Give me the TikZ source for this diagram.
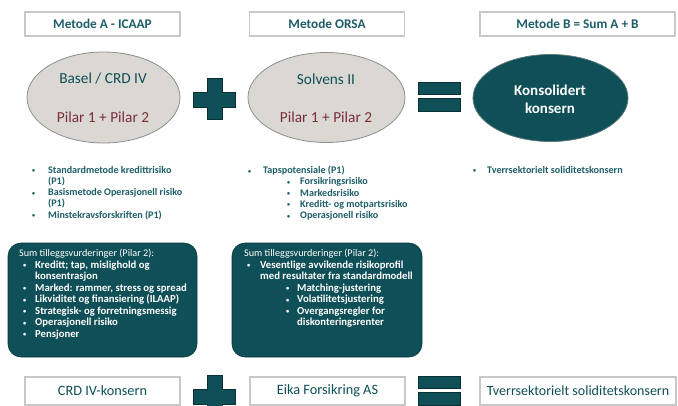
\documentclass[tikz,border=0pt]{standalone}
\usepackage{fontspec}
\setmainfont{Carlito}
\usetikzlibrary{shapes.geometric}
\definecolor{teal}{HTML}{0F4F57}
\definecolor{tealtext}{HTML}{1D5E69}
\definecolor{ellfill}{HTML}{DBD8D4}
\definecolor{ellline}{HTML}{8E8E8E}
\definecolor{pilred}{HTML}{7B2C3A}
\definecolor{boxline}{HTML}{C8C8C8}
\tikzset{
  labelbox/.style={draw=boxline, line width=1.2pt, fill=white, minimum height=24pt, inner sep=0pt, text=tealtext, font=\fontsize{14.3}{16}\selectfont},
  toplabel/.style={labelbox, font=\bfseries\fontsize{13.3}{15}\selectfont},
  grayell/.style={ellipse, draw=ellline, line width=0.8pt, fill=ellfill, inner sep=0pt},
  darkell/.style={ellipse, draw=ellline!60!teal, line width=0.8pt, fill=teal, inner sep=0pt},
  elltitle/.style={inner sep=0pt, font=\fontsize{15.3}{17}\selectfont, text=teal},
  ellpilar/.style={inner sep=0pt, font=\fontsize{15.3}{17}\selectfont, text=pilred},
  blist/.style={anchor=north west, inner sep=0pt, align=left, text=tealtext, font=\bfseries\fontsize{10.1}{11.2}\selectfont},
  darkbox/.style={draw=teal!70!black, fill=teal, rounded corners=13pt, line width=0.6pt},
  boxlist/.style={anchor=north west, inner sep=0pt, align=left, text=white, font=\bfseries\fontsize{10.7}{11.5}\selectfont},
  symb/.style={fill=teal, draw=teal!60!black, line width=0.4pt},
}
\newcommand{\sbul}{\raisebox{0.1ex}{\scalebox{0.6}{\textbullet}}}
\newcommand{\bl}[1]{\makebox[#1][l]{\sbul}}
\begin{document}
\begin{tikzpicture}[x=1pt,y=-1pt]
\useasboundingbox (0,0) rectangle (678,405);
\fill[white] (0,0) rectangle (678,405);
% top labels
\node[toplabel, minimum width=155pt] (ta) at (102.5,24) {Metode A - ICAAP};
\node[toplabel, minimum width=155pt] (to) at (327,24) {Metode ORSA};
\node[toplabel, minimum width=195pt] (tb) at (577.5,24) {Metode B = Sum A + B};
% ellipses
\node[grayell, minimum width=153pt, minimum height=91pt] (e1) at (103.5,97.5) {};
\node[elltitle] (e1a) at (103,79) {Basel / CRD IV};
\node[ellpilar] (e1b) at (103,117) {Pilar 1 + Pilar 2};
\node[grayell, minimum width=157pt, minimum height=90pt] (e2) at (326.5,97.5) {};
\node[elltitle] (e2a) at (326,79) {Solvens II};
\node[ellpilar] (e2b) at (326,117) {Pilar 1 + Pilar 2};
\node[darkell, minimum width=155pt, minimum height=87pt] (e3) at (550.5,98) {};
\node[inner sep=0pt, align=center, text=white, font=\bfseries\fontsize{15}{18}\selectfont] (e3a) at (550,99) {Konsolidert\\konsern};
% plus and equals (top)
\draw[symb] (207,78) -- (222,78) -- (222,92) -- (235,92) -- (235,107) -- (222,107) -- (222,119) -- (207,119) -- (207,107) -- (193,107) -- (193,92) -- (207,92) -- cycle;
\draw[symb] (418,82) rectangle (460,94);
\draw[symb] (418,98) rectangle (460,111);
% bullet lists
\node[blist] (l1) at (32,166) {\bl{16pt}Standardmetode kredittrisiko\\\hspace*{16pt}(P1)\\\bl{16pt}Basismetode Operasjonell risiko\\\hspace*{16pt}(P1)\\\bl{16pt}Minstekravsforskriften (P1)};
\node[blist] (l2) at (248,166) {\bl{15pt}Tapspotensiale (P1)\\
\hspace*{39pt}\bl{13pt}Forsikringsrisiko\\\hspace*{39pt}\bl{13pt}Markedsrisiko\\\hspace*{39pt}\bl{13pt}Kreditt- og motpartsrisiko\\\hspace*{39pt}\bl{13pt}Operasjonell risiko};
\node[blist] (l3) at (473,166) {\bl{14pt}Tverrsektorielt soliditetskonsern};
% dark boxes
\draw[darkbox] (8,243) rectangle (197,357);
\node[boxlist] (b1) at (19,249) {{\mdseries\fontsize{10.2}{12}\selectfont Sum tilleggsvurderinger (Pilar 2):}\\
\hspace*{4pt}\bl{12pt}Kreditt; tap, mislighold og\\
\hspace*{16pt}konsentrasjon\\
\hspace*{4pt}\bl{12pt}Marked: rammer, stress og spread\\
\hspace*{4pt}\bl{12pt}Likviditet og finansiering (ILAAP)\\
\hspace*{4pt}\bl{12pt}Strategisk- og forretningsmessig\\
\hspace*{4pt}\bl{12pt}Operasjonell risiko\\
\hspace*{4pt}\bl{12pt}Pensjoner};
\draw[darkbox] (232,243) rectangle (422,357);
\node[boxlist] (b2) at (244,249) {{\mdseries\fontsize{10.2}{12}\selectfont Sum tilleggsvurderinger (Pilar 2):}\\
\hspace*{3pt}\bl{13pt}Vesentlige avvikende risikoprofil\\
\hspace*{16pt}med resultater fra standardmodell\\
\hspace*{42pt}\bl{11pt}Matching-justering\\
\hspace*{42pt}\bl{11pt}Volatilitetsjustering\\
\hspace*{42pt}\bl{11pt}Overgangsregler for\\
\hspace*{53pt}diskonteringsrenter};
% bottom labels
\node[labelbox, minimum width=155pt, minimum height=28pt, text=teal] (c1) at (102.5,391) {CRD IV-konsern};
\node[labelbox, minimum width=155pt, minimum height=28pt, text=teal] (c2) at (327.5,391) {Eika Forsikring AS};
\node[labelbox, minimum width=196pt, minimum height=28pt, text=teal, font=\fontsize{14}{16}\selectfont] (c3) at (578,391) {Tverrsektorielt soliditetskonsern};
\draw[symb] (207,375) -- (222,375) -- (222,389) -- (235,389) -- (235,404) -- (222,404) -- (222,416) -- (207,416) -- (207,404) -- (193,404) -- (193,389) -- (207,389) -- cycle;
\draw[symb] (418,376) rectangle (460,388);
\draw[symb] (418,392) rectangle (460,405);
\end{tikzpicture}
\end{document}
